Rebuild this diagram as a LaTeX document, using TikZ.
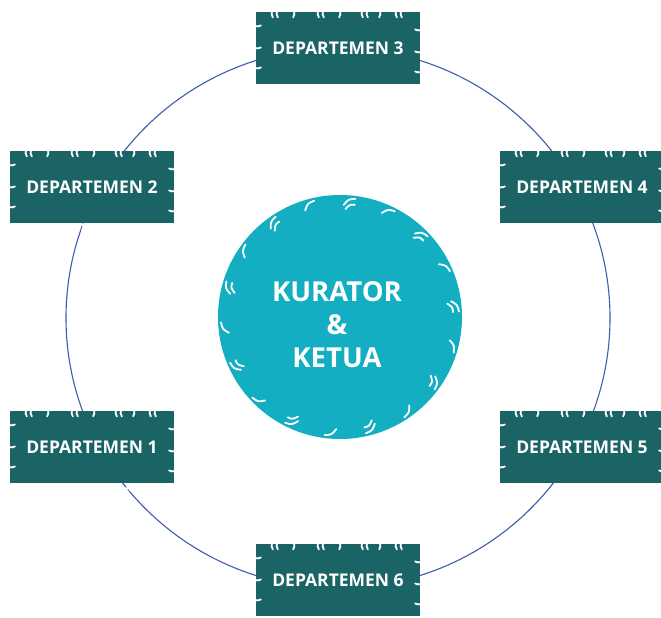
\documentclass[tikz,border=0pt]{standalone}
\usepackage{fontspec}
\setmainfont{Open Sans}
\definecolor{deptcol}{HTML}{1A6466}
\definecolor{kurcol}{HTML}{14AEC3}
\definecolor{ringcol}{HTML}{3F5DAA}
\begin{document}
\begin{tikzpicture}[x=1pt,y=-1pt,
  dept/.style={fill=deptcol, minimum width=164pt, minimum height=72pt, inner sep=0pt,
     text=white, font=\bfseries\fontsize{17.5pt}{20pt}\selectfont},
  kur/.style={circle, fill=kurcol, minimum size=244pt, inner sep=0pt, text=white,
     align=center, font=\bfseries\fontsize{27.5pt}{33pt}\selectfont},
  ring/.style={draw=ringcol, line width=1.1pt},
  wmark/.style={draw=white, line width=1.8pt, line cap=round}]
\useasboundingbox (0,0) rectangle (661,618);
\fill[white] (0,0) rectangle (661,618);
% ring
\coordinate (rc) at (338,318);
\draw[ring] (rc) ellipse [x radius=272, y radius=270];
% centre
\node[kur] (k) at (340,317) {};
\node[text=white, align=center, font=\bfseries\fontsize{27.5pt}{33pt}\selectfont] (kt) at (337,325) {KURATOR\\\&\\KETUA};
\foreach \a [count=\i] in {5,25,45,65,85,105,125,145,165,185,205,225,245,265,285,305,325,345}{
  \begin{scope}[shift={(k.center)}, rotate=\a]
    \draw[wmark] (112,-6) .. controls (118,-2) .. (119,5);
    \ifodd\i \draw[wmark] (108,-4) .. controls (113,0) .. (113,5); \fi
  \end{scope}
}
% departments
\node[dept] (d1) at (92,447) {DEPARTEMEN 1};
\node[dept] (d2) at (92,187) {DEPARTEMEN 2};
\node[dept] (d3) at (338,48) {DEPARTEMEN 3};
\node[dept] (d4) at (582,187) {DEPARTEMEN 4};
\node[dept] (d5) at (582,447) {DEPARTEMEN 5};
\node[dept] (d6) at (338,580) {DEPARTEMEN 6};
\foreach \n in {d1,d2,d3,d4,d5,d6}{
  \begin{scope}[shift={(\n.center)}]
    \foreach \x in {-66,-20,24,58}{
      \draw[wmark] (\x,-37) arc[start angle=200, end angle=145, radius=7];
      \draw[wmark] (\x+5,-37) arc[start angle=200, end angle=145, radius=7];
      \draw[wmark] (\x+16,37) arc[start angle=-20, end angle=35, radius=7];
      \draw[wmark] (\x+11,37) arc[start angle=-20, end angle=35, radius=7];
    }
    \foreach \x in {-44,2,42}{
      \draw[wmark] (\x,-37) arc[start angle=-20, end angle=35, radius=7];
      \draw[wmark] (\x-5,37) arc[start angle=200, end angle=145, radius=7];
    }
    \foreach \y in {-22,0,20}{
      \draw[wmark] (-83,\y) arc[start angle=110, end angle=60, radius=7];
      \draw[wmark] (83,\y+4) arc[start angle=70, end angle=120, radius=7];
    }
  \end{scope}
}
\end{tikzpicture}
\end{document}
